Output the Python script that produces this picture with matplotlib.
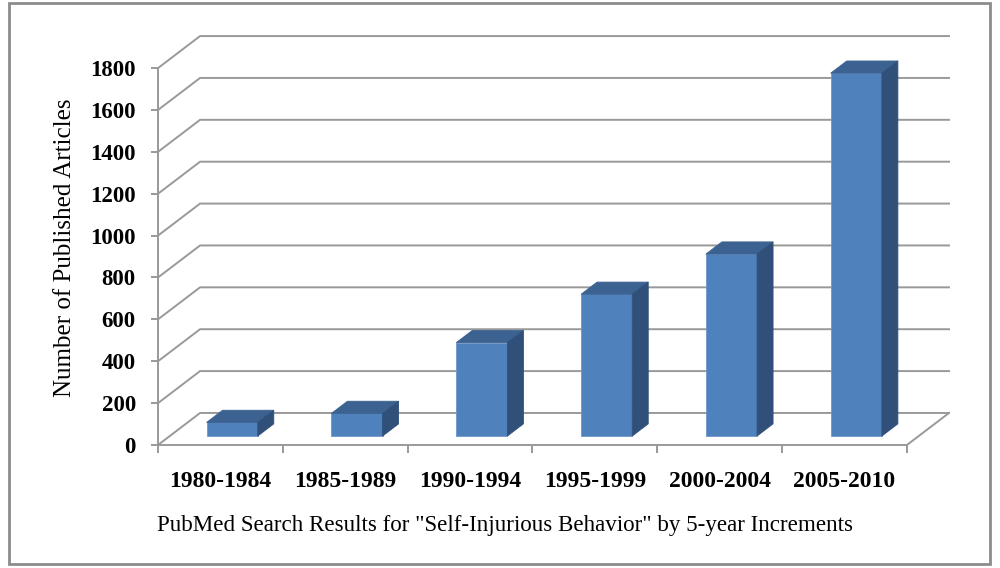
import numpy as np
import matplotlib
matplotlib.use('Agg')
import matplotlib.pyplot as plt
from matplotlib.patches import Polygon, Rectangle

# data
periods = ['1980-1984', '1985-1989', '1990-1994', '1995-1999', '2000-2004', '2005-2010']
articles = [65, 108, 446, 677, 869, 1733]
y_ticks = [0, 200, 400, 600, 800, 1000, 1200, 1400, 1600, 1800]

# fake 3d look (depth offsets in data units)
DX, DY = 0.337, 153.0
F0, BD, BW = 0.28, 0.38, 0.41
FRONT = '#4f81bd'
TOP = '#3c6291'
SIDE = '#30507a'
GRID = '#999999'

plt.rcParams['font.family'] = ['Liberation Serif', 'DejaVu Serif']

fig = plt.figure(figsize=(10, 5.68), dpi=100)
ax = fig.add_axes([0.158, 1 - 445 / 568, 0.792, (445 - 34.6) / 568])
n = len(periods)
ax.set_xlim(0, n + 0.345)
ax.set_ylim(0, 1960)

# walls / floor lines
for v in y_ticks:
    ax.plot([0, DX, n + DX], [v, v + DY, v + DY], color=GRID, lw=1.4, zorder=1,
            solid_joinstyle='miter')
ax.plot([n, n + DX], [0, DY], color=GRID, lw=1.4, zorder=1)

# bars
for i, v in enumerate(articles):
    xl = i + 0.5 - BW / 2 + F0 * DX
    xr = xl + BW
    yb = F0 * DY
    ox, oy = BD * DX, BD * DY
    ax.add_patch(Rectangle((xl, yb), BW, v, facecolor=FRONT, edgecolor='#6f97c9',
                           lw=0.6, zorder=3))
    ax.add_patch(Polygon([(xl, yb + v), (xr, yb + v), (xr + ox, yb + v + oy),
                          (xl + ox, yb + v + oy)], closed=True, facecolor=TOP,
                         edgecolor=TOP, lw=0.6, zorder=3))
    ax.add_patch(Polygon([(xr, yb), (xr + ox, yb + oy), (xr + ox, yb + v + oy),
                          (xr, yb + v)], closed=True, facecolor=SIDE,
                         edgecolor=SIDE, lw=0.6, zorder=3))

for s in ['top', 'right']:
    ax.spines[s].set_visible(False)
for s in ['left', 'bottom']:
    ax.spines[s].set_color(GRID)
    ax.spines[s].set_linewidth(1.4)
ax.spines['left'].set_bounds(0, 1800)
ax.spines['bottom'].set_bounds(0, n)

ax.set_yticks(y_ticks)
ax.set_yticklabels([str(t) for t in y_ticks], fontsize=16.5, fontweight='bold')
ax.set_xticks(np.arange(n + 1))
ax.set_xticklabels([])
ax.set_xticks(np.arange(n) + 0.5, minor=True)
ax.set_xticklabels(periods, minor=True, fontsize=17, fontweight='bold')
ax.tick_params(axis='y', length=5, width=1.4, color=GRID, pad=11)
ax.tick_params(axis='x', which='major', length=6, width=1.4, color=GRID)
ax.tick_params(axis='x', which='minor', length=0, pad=19)
ax.patch.set_alpha(0)

fig.text(0.065, 1 - 248 / 568, 'Number of Published Articles', rotation=90,
         ha='center', va='center', fontsize=18)
fig.text(0.505, 1 - 525 / 568,
         'PubMed Search Results for "Self-Injurious Behavior" by 5-year Increments',
         ha='center', va='center', fontsize=16.6)

# outer frame
fig.add_artist(Rectangle((0.009, 1 - 564 / 568), 0.981, 561 / 568,
                         transform=fig.transFigure, fill=False,
                         edgecolor='#8c8c8c', lw=2))

fig.savefig('out.png', dpi=100)
print('done')
